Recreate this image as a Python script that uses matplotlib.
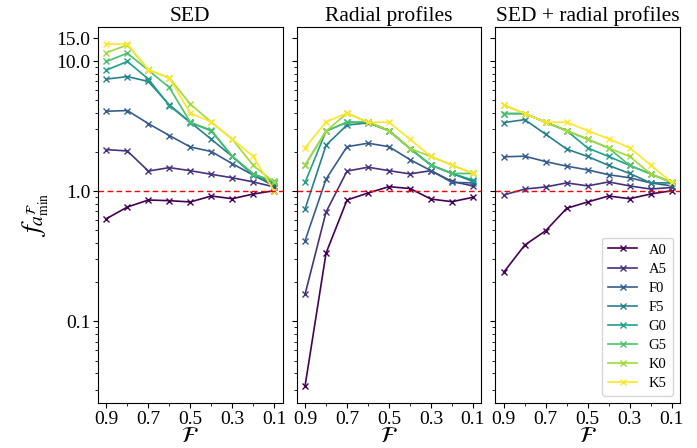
import matplotlib as mpl
mpl.use('Agg')
import matplotlib.pyplot as plt
import numpy as np
from matplotlib.ticker import FormatStrFormatter, MultipleLocator, NullFormatter

plt.rcParams['font.family'] = 'Liberation Serif'
plt.rcParams['mathtext.fontset'] = 'stix'

fractions = [0.9, 0.8, 0.7, 0.6, 0.5, 0.4, 0.3, 0.2, 0.1]
types = ['A0', 'A5', 'F0', 'F5', 'G0', 'G5', 'K0', 'K5']
titles = ['SED', 'Radial profiles', 'SED + radial profiles']

sed = {
    'A0': [0.616, 0.757, 0.857, 0.847, 0.828, 0.92, 0.877, 0.953, 1.01],
    'A5': [2.09, 2.04, 1.43, 1.52, 1.44, 1.35, 1.27, 1.18, 1.08],
    'F0': [4.12, 4.17, 3.31, 2.68, 2.19, 2.02, 1.63, 1.33, 1.10],
    'F5': [7.27, 7.6, 6.97, 4.61, 3.39, 2.51, 1.85, 1.36, 1.15],
    'G0': [8.53, 9.93, 7.27, 4.55, 3.37, 2.91, 1.85, 1.33, 1.17],
    'G5': [9.93, 11.5, 8.5, 6.27, 3.39, 2.94, 1.86, 1.36, 1.19],
    'K0': [11.6, 13.3, 8.6, 7.4, 4.67, 3.4, 2.51, 1.58, 1.17],
    'K5': [13.5, 13.5, 8.6, 7.4, 3.98, 3.4, 2.51, 1.85, 1.0],
}
radial = {
    'A0': [0.032, 0.335, 0.857, 0.97, 1.085, 1.05, 0.872, 0.832, 0.899],
    'A5': [0.162, 0.693, 1.43, 1.53, 1.44, 1.36, 1.44, 1.19, 1.10],
    'F0': [0.417, 1.24, 2.2, 2.34, 2.2, 1.75, 1.44, 1.17, 1.16],
    'F5': [0.731, 2.26, 3.23, 3.35, 2.92, 2.13, 1.59, 1.37, 1.19],
    'G0': [1.17, 2.90, 3.39, 3.39, 2.92, 2.13, 1.59, 1.37, 1.22],
    'G5': [1.59, 2.90, 3.39, 3.39, 2.92, 2.13, 1.59, 1.37, 1.37],
    'K0': [1.59, 2.90, 3.98, 3.39, 2.92, 2.13, 1.85, 1.59, 1.37],
    'K5': [2.16, 3.41, 3.98, 3.39, 3.39, 2.51, 1.85, 1.59, 1.37],
}
combined = {
    'A0': [0.239, 0.386, 0.498, 0.74, 0.828, 0.92, 0.877, 0.953, 1.01],
    'A5': [0.937, 1.04, 1.08, 1.16, 1.10, 1.18, 1.10, 1.04, 1.07],
    'F0': [1.84, 1.86, 1.69, 1.56, 1.46, 1.34, 1.27, 1.16, 1.10],
    'F5': [3.37, 3.55, 2.74, 2.11, 1.85, 1.58, 1.37, 1.16, 1.16],
    'G0': [3.95, 3.95, 3.39, 2.92, 2.15, 1.85, 1.58, 1.36, 1.17],
    'G5': [3.95, 3.95, 3.39, 2.92, 2.51, 2.15, 1.58, 1.36, 1.17],
    'K0': [4.61, 3.95, 3.39, 2.92, 2.51, 2.15, 1.85, 1.36, 1.17],
    'K5': [4.61, 3.95, 3.39, 3.39, 2.92, 2.53, 2.16, 1.59, 1.17],
}
datasets = [sed, radial, combined]

colors = plt.cm.viridis(np.linspace(0, 1, len(types)))

fig, axs = plt.subplots(1, 3, figsize=(6.97, 4.48), dpi=100, sharey=True)
for ax, data, title in zip(axs, datasets, titles):
    for t, c in zip(types, colors):
        ax.plot(fractions, data[t], marker='x', ms=4, lw=1.2, color=c, label=t)
    ax.axhline(1, color='red', ls=(0, (4, 2.5)), lw=1.0)
    ax.set_yscale('log')
    ax.set_title(title, fontsize=15.5, pad=4)
    ax.set_xlabel(r'$\mathcal{F}$', fontsize=16, labelpad=0)
    ax.xaxis.set_major_locator(MultipleLocator(0.2, offset=0.1))
    ax.xaxis.set_minor_locator(MultipleLocator(0.1))
    ax.tick_params(labelsize=14, pad=2)
    ax.invert_xaxis()

axs[0].set_yticks([0.1, 1, 10, 15])
axs[0].yaxis.set_major_formatter(FormatStrFormatter('%.1f'))
axs[0].yaxis.set_minor_formatter(NullFormatter())
axs[0].set_ylabel(r'$f_{a^{\mathcal{F}}_{\min}}$', fontsize=20)
axs[2].legend(loc='lower right', fontsize=10.5, labelspacing=0.4)

fig.subplots_adjust(left=0.1406, right=0.9756, top=0.9397, bottom=0.1004, wspace=0.076)
fig.savefig('out.png')
